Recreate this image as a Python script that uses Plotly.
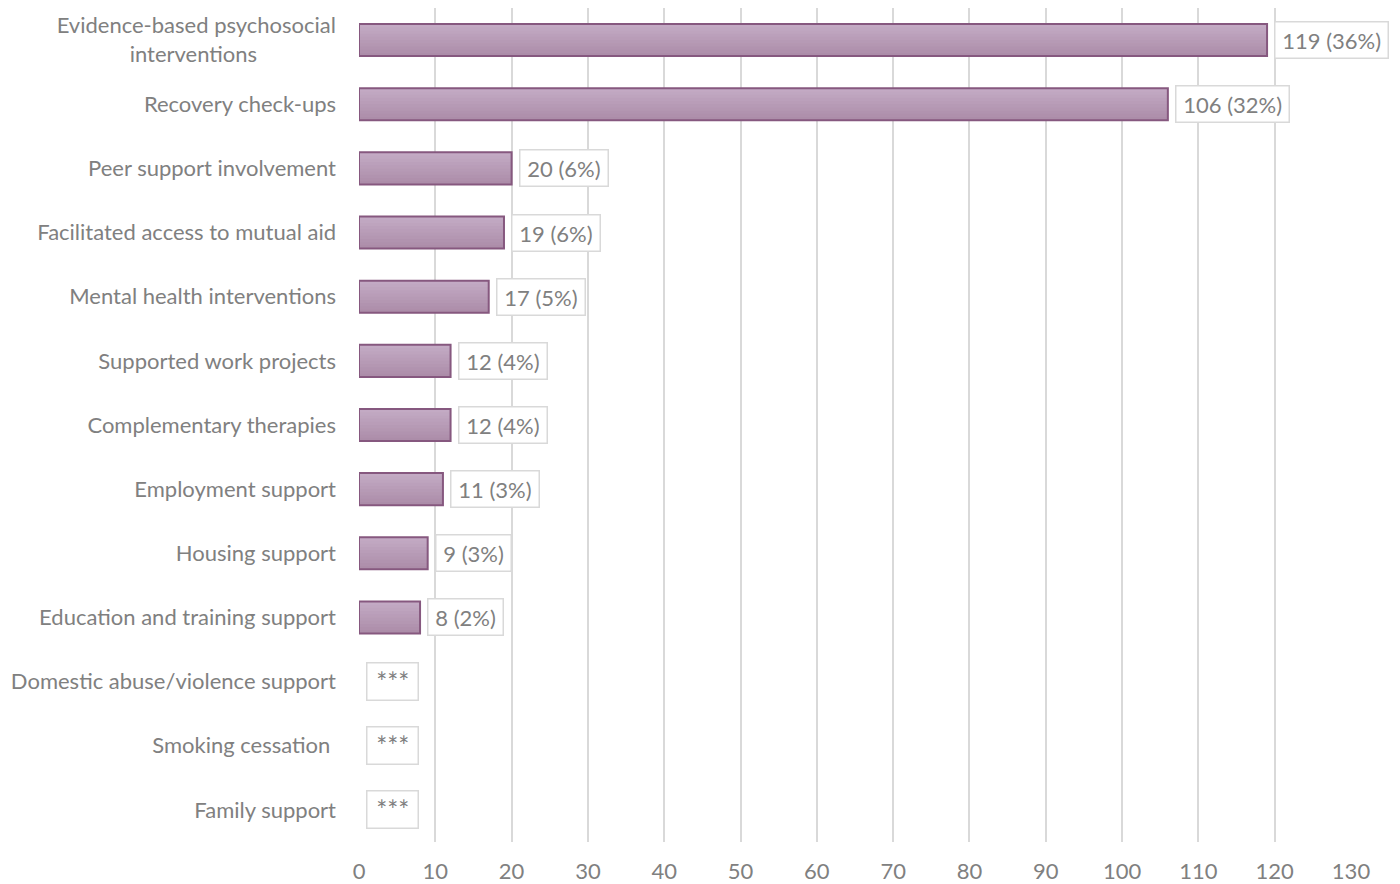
import plotly.graph_objects as go

categories = [
    "Evidence-based psychosocial<br>interventions" + "\u00a0" * 14,
    "Recovery check-ups",
    "Peer support involvement",
    "Facilitated access to mutual aid",
    "Mental health interventions",
    "Supported work projects",
    "Complementary therapies",
    "Employment support",
    "Housing support",
    "Education and training support",
    "Domestic abuse/violence support",
    "Smoking cessation\u00a0",
    "Family support",
]
counts = [119, 106, 20, 19, 17, 12, 12, 11, 9, 8, 0, 0, 0]
labels = ["119 (36%)", "106 (32%)", "20 (6%)", "19 (6%)", "17 (5%)", "12 (4%)",
          "12 (4%)", "11 (3%)", "9 (3%)", "8 (2%)", "***", "***", "***"]
x_ticks = list(range(0, 131, 10))

FONT = "Lato"
GREY = "#808080"
SIZE = 22
BAR_W = 0.5

# vertical shading of the bars: darker at the bottom, lighter at the top
top_rgb = (0xC3, 0xAA, 0xC4)
bottom_rgb = (0xAC, 0x8D, 0xA9)
n_layers = 10

fig = go.Figure()
for k in range(n_layers):
    t = k / (n_layers - 1)
    rgb = tuple(round(b + (a - b) * t) for a, b in zip(top_rgb, bottom_rgb))
    fig.add_trace(go.Bar(
        y=categories, x=counts, orientation="h",
        width=BAR_W * (1 - k / n_layers), offset=-BAR_W / 2,
        marker=dict(color="rgb(%d,%d,%d)" % rgb, line=dict(width=0)),
        hoverinfo="skip",
    ))

# outline
fig.add_trace(go.Bar(
    y=categories, x=counts, orientation="h", width=BAR_W, offset=-BAR_W / 2,
    marker=dict(color="rgba(0,0,0,0)",
                line=dict(color="#86587f", width=[2 if v > 0 else 0 for v in counts])),
    hoverinfo="skip",
))

for cat, val, lab in zip(categories, counts, labels):
    masked = lab == "***"
    fig.add_annotation(
        x=val, y=cat, xref="x", yref="y",
        text=("\u2009" + lab + "\u2009") if not masked else "\u00a0***\u00a0",
        showarrow=False, xanchor="left", xshift=7,
        font=dict(family=FONT, size=SIZE if not masked else 26, color=GREY),
        bgcolor="white", bordercolor="#d9d9d9", borderwidth=1.5,
        borderpad=4 if not masked else 2,
    )

fig.update_layout(
    width=1400, height=884,
    margin=dict(l=359, r=49, t=8, b=42),
    plot_bgcolor="white", paper_bgcolor="white",
    showlegend=False, barmode="overlay",
    font=dict(family=FONT, size=SIZE, color=GREY),
)
fig.update_xaxes(
    range=[0, 130], tickvals=x_ticks, ticktext=[str(v) for v in x_ticks],
    showgrid=True, gridcolor="#d9d9d9", gridwidth=1.5,
    zeroline=False, showline=False, ticks="", ticklabelstandoff=14,
    automargin=False,
    tickfont=dict(family=FONT, size=SIZE, color=GREY),
)
fig.update_yaxes(
    autorange="reversed", showgrid=False, zeroline=False, showline=False,
    ticks="", ticklabelstandoff=22, automargin=False,
    tickfont=dict(family=FONT, size=SIZE, color=GREY),
)

fig.write_html("out.html")
